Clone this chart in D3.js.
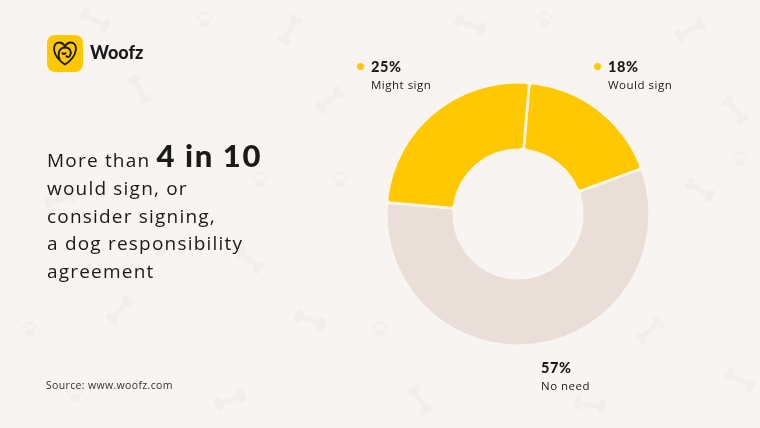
<!DOCTYPE html>
<html><head><meta charset="utf-8">
<script src="https://cdn.jsdelivr.net/npm/d3@7"></script>
<style>html,body{margin:0;padding:0;background:#F8F4F1;}svg{display:block;}</style>
</head><body>
<script>
const categories = ["Would sign", "No need", "Might sign"];
const values = [18, 57, 25];
const valueLabels = ["18%", "57%", "25%"];
const colors = ["#FFC800", "#EADFD8", "#FFC800"];

const W = 760, H = 428;
const svg = d3.select("body").append("svg").attr("width", W).attr("height", H);
svg.append("rect").attr("width", W).attr("height", H).attr("fill", "#F8F4F1");

// faint decorative bones
const deco = svg.append("g").attr("fill", "#EFE9E4").attr("opacity", 0.6);
const bones = [[95,20,30],[290,30,-60],[470,25,20],[690,30,-30],[140,90,60],[330,100,-40],[735,110,50],[60,200,-20],[250,260,40],[700,190,30],[120,310,-50],[310,320,20],[650,330,-40],[420,400,60],[230,400,-20],[740,380,30],[590,405,10]];
bones.forEach(([x,y,a])=>{
  const g = deco.append("g").attr("transform",`translate(${x},${y}) rotate(${a})`);
  g.append("rect").attr("x",-12).attr("y",-2.5).attr("width",24).attr("height",5);
  [[-12,-3],[-12,3],[12,-3],[12,3]].forEach(([cx,cy])=>g.append("circle").attr("cx",cx).attr("cy",cy).attr("r",3.5));
});
const paws = [[205,20],[545,20],[440,140],[340,180],[160,250],[540,300],[740,160],[30,330],[260,180],[630,250],[380,330],[75,395]];
paws.forEach(([x,y])=>{
  const g = deco.append("g").attr("transform",`translate(${x},${y})`);
  g.append("ellipse").attr("cx",0).attr("cy",3).attr("rx",5).attr("ry",4);
  [[-6,-3],[-2,-7],[2,-7],[6,-3]].forEach(([cx,cy])=>g.append("circle").attr("cx",cx).attr("cy",cy).attr("r",2));
});

// logo
svg.append("rect").attr("x",47).attr("y",35).attr("width",36).attr("height",37).attr("rx",8).attr("fill","#FFC800");
const lg = svg.append("g").attr("transform","translate(65,53.5)").attr("fill","none").attr("stroke","#1a1a1a").attr("stroke-width",1.8);
lg.append("path").attr("d","M0,11 C-14,2 -13,-11 -6,-11 C-3,-11 -1,-9 0,-7 C1,-9 3,-11 6,-11 C13,-11 14,2 0,11 Z");
lg.append("path").attr("d","M-5,6 C-8,1 -6,-6 0,-6 C5,-6 7,-2 5,2 C4,4 2,4 1,2 M-3,-1 C-2,1 0,1 1,-1");
svg.append("text").attr("x",90).attr("y",59).text("Woofz")
  .attr("font-family","Lato, sans-serif").attr("font-weight",900).attr("font-size",18).attr("fill","#1a1a1a");

// headline
const hf = "'Open Sans', sans-serif";
const t1 = svg.append("text").attr("x",47).attr("y",167).attr("font-family",hf).attr("font-size",19).attr("letter-spacing",1.2).attr("fill","#1a1a1a");
t1.append("tspan").text("More than ");
t1.append("tspan").text("4 in 10").attr("font-family","Lato, sans-serif").attr("font-weight",900).attr("font-size",31).attr("letter-spacing",1.6);
["would sign, or","consider signing,","a dog responsibility","agreement"].forEach((s,i)=>{
  svg.append("text").attr("x",47).attr("y",195+i*27.5).attr("font-family",hf).attr("font-size",19).attr("letter-spacing",1.2).attr("fill","#1a1a1a").text(s);
});

svg.append("text").attr("x",46).attr("y",389).attr("font-family",hf).attr("font-size",10.5).attr("letter-spacing",0.35).attr("fill","#333").text("Source: www.woofz.com");

// donut
const cx = 518, cy = 214, R = 131, r = 65;
const pie = d3.pie().sort(null).value(d=>d).startAngle(5*Math.PI/180).endAngle(365*Math.PI/180);
const arc = d3.arc().innerRadius(r).outerRadius(R).cornerRadius(3).padAngle(0.012);
const arcs = pie(values);
svg.append("g").attr("transform",`translate(${cx},${cy})`)
  .selectAll("path").data(arcs).join("path")
  .attr("d",arc).attr("fill",(d,i)=>colors[i]).attr("stroke","#FBF6EE").attr("stroke-width",1);

// labels
const labelPos = [[608,72,"dot"],[541,373,"nodot"],[371,72,"dot"]];
labelPos.forEach(([x,y,dot],i)=>{
  if(dot==="dot") svg.append("circle").attr("cx",x-10.5).attr("cy",y-5.5).attr("r",3.5).attr("fill","#FFC800");
  svg.append("text").attr("x",x).attr("y",y).attr("font-family","Lato, sans-serif").attr("font-weight",900).attr("font-size",14.5).attr("letter-spacing",0.6).attr("fill","#1a1a1a").text(valueLabels[i]);
  svg.append("text").attr("x",x).attr("y",y+17).attr("font-family",hf).attr("font-size",11.5).attr("letter-spacing",0.5).attr("fill","#1a1a1a").text(categories[i]);
});
</script>
</body></html>
